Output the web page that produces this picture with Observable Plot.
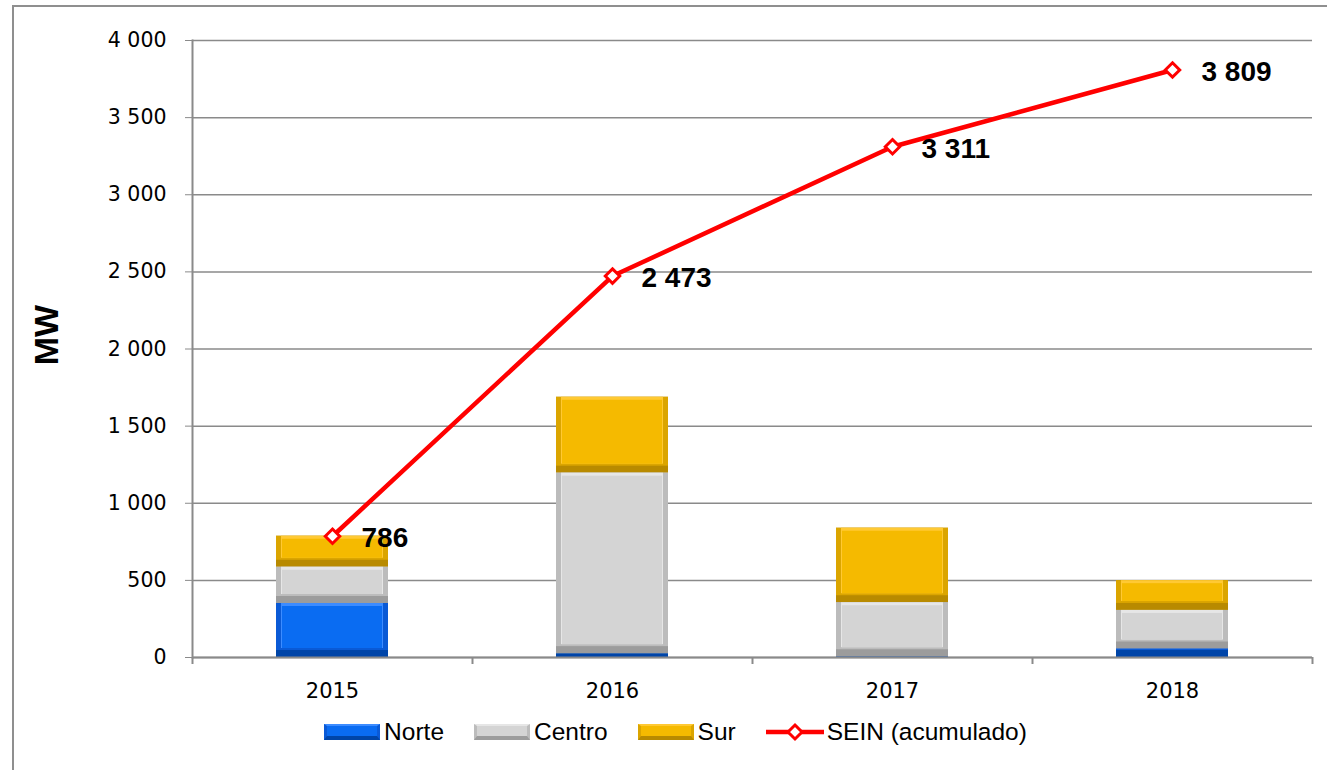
<!DOCTYPE html>
<html>
<head>
<meta charset="utf-8">
<script src="https://cdn.jsdelivr.net/npm/d3@7"></script>
<script src="https://cdn.jsdelivr.net/npm/@observablehq/plot@0.6"></script>
<style>
  html, body { margin: 0; padding: 0; background: #fff; overflow: hidden; }
  #wrap { position: relative; width: 1327px; height: 770px; }
  #border { position: absolute; left: 12px; top: 5px; width: 1400px; height: 800px; border: 2px solid #8f8f8f; box-sizing: border-box; pointer-events: none; }
  #legend { position: absolute; left: 0; top: 710px; width: 1327px; height: 44px; padding-left: 24px; box-sizing: border-box; display: flex; justify-content: center; align-items: center; font-family: "Liberation Sans", Arial, sans-serif; font-size: 24.5px; color: #000; }
  .item { display: flex; align-items: center; margin: 0 15px 0 15px; }
  .sw { width: 56px; height: 16px; margin-right: 4px; box-sizing: border-box; }
</style>
</head>
<body>
<div id="wrap">
  <div id="chart"></div>
  <div id="legend"></div>
  <div id="border"></div>
</div>
<script>
// ---- data ----
const years = ["2015", "2016", "2017", "2018"];
const regions = ["Norte", "Centro", "Sur"];
const norte = [350, 25, 5, 55];
const centro = [235, 1170, 350, 250];
const sur = [201, 492, 483, 193];
const sein = [786, 2473, 3311, 3809];
const seinLabels = ["786", "2 473", "3 311", "3 809"];
const yTicks = [0, 500, 1000, 1500, 2000, 2500, 3000, 3500, 4000];
const yTickLabels = ["0", "500", "1 000", "1 500", "2 000", "2 500", "3 000", "3 500", "4 000"];
const lineName = "SEIN (acumulado)";

const mainColor = {Norte: "#0a6cf2", Centro: "#d4d4d4", Sur: "#f5ba00"};
const sideColor = {Norte: "#0a5ad6", Centro: "#bcbcbc", Sur: "#dba500"};
const darkColor = {Norte: "#0045a8", Centro: "#9c9c9c", Sur: "#b88a00"};
const lightColor = {Norte: "#3d8cff", Centro: "#e6e6e6", Sur: "#ffc933"};

// stacked rows
const series = {Norte: norte, Centro: centro, Sur: sur};
const rows = [];
years.forEach((yr, i) => {
  let acc = 0;
  regions.forEach(r => {
    const v = series[r][i];
    rows.push({year: yr, region: r, y1: acc, y2: acc + v, value: v});
    acc += v;
  });
});
const lineRows = years.map((yr, i) => ({year: yr, value: sein[i], label: seinLabels[i]}));

const W = 1327, H = 710, ML = 192, MR = 15, MT = 40, MB = 53;
const step = (W - ML - MR) / years.length;
const plotH = H - MT - MB;
const big = rows.filter(d => d.value > 40);

const chart = Plot.plot({
  width: W,
  height: H,
  marginLeft: ML,
  marginRight: MR,
  marginTop: MT,
  marginBottom: MB,
  style: {fontFamily: "'DejaVu Sans', sans-serif", fontSize: "20.5px", color: "#000", background: "transparent"},
  x: {domain: years, paddingInner: 0.6, paddingOuter: 0.3, label: null},
  y: {domain: [0, 4000], label: null},
  marks: [
    Plot.gridY(yTicks, {stroke: "#8a8a8a", strokeOpacity: 1, strokeWidth: 1.5}),
    // bars with a bevel look
    Plot.barY(rows.filter(d => d.value > 0), {x: "year", y1: "y1", y2: "y2", fill: d => darkColor[d.region]}),
    Plot.barY(big, {x: "year", y1: "y1", y2: "y2", fill: d => sideColor[d.region], insetBottom: 7}),
    Plot.barY(big, {x: "year", y1: "y1", y2: "y2", fill: d => lightColor[d.region], insetBottom: 9, insetLeft: 5, insetRight: 5}),
    Plot.barY(big, {x: "year", y1: "y1", y2: "y2", fill: d => mainColor[d.region], insetTop: 3, insetLeft: 6, insetRight: 6, insetBottom: 9}),
    // axes
    Plot.ruleY([0], {stroke: "#8a8a8a", strokeWidth: 2}),
    Plot.frame({anchor: "left", stroke: "#8a8a8a", strokeWidth: 2}),
    Plot.axisY({ticks: yTicks, tickFormat: d => yTickLabels[yTicks.indexOf(d)], tickSize: 7, tickPadding: 19, stroke: "#8a8a8a", label: null}),
    Plot.axisX({tickSize: 0, tickPadding: 26, fontSize: 21, label: null}),
    // category boundary ticks below the x axis
    Plot.ruleX(years, {x: d => d, dx: -step / 2, stroke: "#8a8a8a", strokeWidth: 2, insetTop: plotH, insetBottom: -7}),
    Plot.ruleX(years.slice(-1), {x: d => d, dx: step / 2, stroke: "#8a8a8a", strokeWidth: 2, insetTop: plotH, insetBottom: -7}),
    // y label
    Plot.text(["MW"], {frameAnchor: "left", dx: -145, dy: -14, rotate: -90, textAnchor: "middle", text: d => d, fontSize: 34, fontWeight: "bold", fontFamily: "'Liberation Sans', Arial, sans-serif"}),
    // cumulative line
    Plot.line(lineRows, {x: "year", y: "value", stroke: "#ff0000", strokeWidth: 4.5}),
    Plot.dot(lineRows, {x: "year", y: "value", symbol: "diamond2", r: 6.5, stroke: "#ff0000", strokeWidth: 3, fill: "#fff"}),
    Plot.text(lineRows, {x: "year", y: "value", text: "label", dx: 29, dy: 2, textAnchor: "start", fontSize: 28, fontWeight: "bold", fontFamily: "'Liberation Sans', Arial, sans-serif", fill: "#000"})
  ]
});
document.getElementById("chart").appendChild(chart);

// legend
const legend = document.getElementById("legend");
regions.forEach(r => {
  const it = document.createElement("div");
  it.className = "item";
  const sw = document.createElement("div");
  sw.className = "sw";
  sw.style.background = mainColor[r];
  sw.style.borderTop = `2px solid ${lightColor[r]}`;
  sw.style.borderBottom = `4px solid ${darkColor[r]}`;
  sw.style.borderLeft = `3px solid ${sideColor[r]}`;
  sw.style.borderRight = `3px solid ${sideColor[r]}`;
  it.appendChild(sw);
  const t = document.createElement("span");
  t.textContent = r;
  it.appendChild(t);
  legend.appendChild(it);
});
{
  const it = document.createElement("div");
  it.className = "item";
  const ns = "http://www.w3.org/2000/svg";
  const s = document.createElementNS(ns, "svg");
  s.setAttribute("width", 58); s.setAttribute("height", 20); s.style.marginRight = "3px";
  const l = document.createElementNS(ns, "line");
  l.setAttribute("x1", 0); l.setAttribute("x2", 58); l.setAttribute("y1", 10); l.setAttribute("y2", 10);
  l.setAttribute("stroke", "#ff0000"); l.setAttribute("stroke-width", 4.5);
  s.appendChild(l);
  const p = document.createElementNS(ns, "path");
  p.setAttribute("d", "M29,3 L36,10 L29,17 L22,10 Z");
  p.setAttribute("fill", "#fff"); p.setAttribute("stroke", "#ff0000"); p.setAttribute("stroke-width", 3);
  s.appendChild(p);
  it.appendChild(s);
  const t = document.createElement("span");
  t.textContent = lineName;
  it.appendChild(t);
  legend.appendChild(it);
}
</script>
</body>
</html>
